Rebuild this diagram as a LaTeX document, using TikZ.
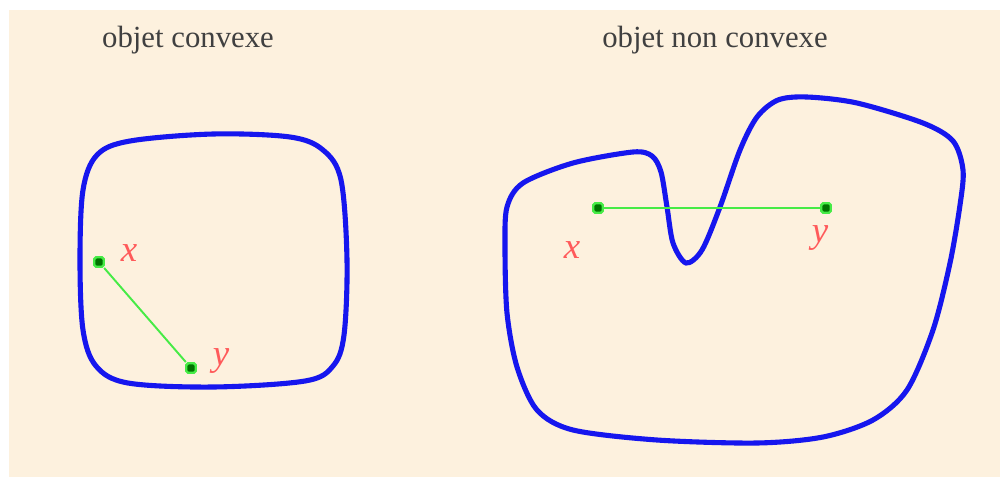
\documentclass[tikz,border=0pt]{standalone}
\usepackage{fontspec}
\setmainfont{Liberation Serif}
\usetikzlibrary{positioning}
\definecolor{fond}{RGB}{253,241,222}
\definecolor{bord}{RGB}{22,22,238}
\definecolor{segment}{RGB}{70,235,70}
\definecolor{etiquette}{RGB}{255,90,90}

\begin{document}
\begin{tikzpicture}[x=0.02cm, y=-0.02cm,
    titre/.style={font=\fontsize{17.5}{20}\selectfont, text=black!75},
    contour/.style={draw=bord, line width=2.9pt},
    point/.style={rectangle, rounded corners=1pt, inner sep=0pt, minimum size=0.19cm, fill=green!45!black, draw=segment, line width=1.4pt},
    lien/.style={draw=segment, line width=1.1pt},
    nom/.style={text=etiquette, font=\fontsize{21}{24}\selectfont\itshape}
]
    \useasboundingbox (0,0) rectangle (1000,477);
    \fill[fond] (9,10) rectangle (1000,477);

    % titres
    \node[titre] (tconv) at (188,40) {objet convexe};
    \node[titre] (tnonconv) at (715,40) {objet non convexe};

    % objet convexe
    \draw[contour] plot[smooth cycle, tension=0.55] coordinates {
        (80,260) (83,190) (97,155) (130,141) (213,134) (290,137) (323,150)
        (341,180) (347,260) (344,335) (333,366) (305,381) (213,387)
        (128,383) (96,366) (83,330)};
    \node[point] (xa) at (99,262) {};
    \node[point] (ya) at (191,368) {};
    \draw[lien] (xa) -- (ya);
    \node[nom] (nxa) at (129,253) {x};
    \node[nom] (nya) at (221,361) {y};

    % objet non convexe
    \draw[contour] plot[smooth cycle, tension=0.5] coordinates {
        (507,207) (523,183) (573,163) (633,152) (652,156) (661,172)
        (667,207) (673,243) (686,263) (702,250) (720,207) (740,150)
        (757,117) (778,100) (807,97) (857,103) (923,123) (953,141)
        (963,170) (960,205) (950,263) (933,330) (907,390) (873,420)
        (823,437) (757,443) (657,440) (573,430) (537,410) (517,367)
        (507,313) (505,247)};
    \node[point] (xb) at (598,208) {};
    \node[point] (yb) at (826,208) {};
    \draw[lien] (xb) -- (yb);
    \node[nom] (nxb) at (572,250) {x};
    \node[nom] (nyb) at (820,238) {y};
\end{tikzpicture}
\end{document}
